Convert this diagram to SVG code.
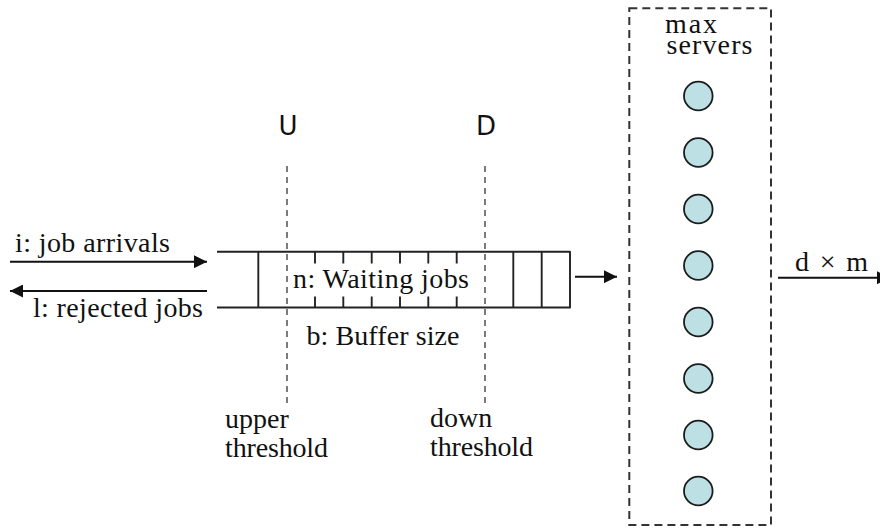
<svg xmlns="http://www.w3.org/2000/svg" width="880" height="531" viewBox="0 0 880 531">
  <style>
    .lbl { font-family: "Liberation Serif", "DejaVu Serif", serif; font-size: 28px; fill: #111; }
    .big { font-family: "DejaVu Sans", "Liberation Sans", sans-serif; font-size: 26px; fill: #111; text-anchor: middle; }
    .q { fill: none; stroke: #222; stroke-width: 1.9; stroke-linejoin: round; }
    .tick { stroke: #222; stroke-width: 1.9; }
    .thr { stroke: #444; stroke-width: 1.4; stroke-dasharray: 6 5; }
    .arrow { stroke: #111; stroke-width: 2; fill: none; }
    .pool { fill: none; stroke: #333; stroke-width: 2; stroke-dasharray: 8 5; }
    .srv { fill: #bce0e4; stroke: #1c1c1c; stroke-width: 1.8; }
  </style>
  <defs>
    <marker id="head" viewBox="0 0 10 10" refX="10" refY="5" markerUnits="userSpaceOnUse" markerWidth="13" markerHeight="13" orient="auto">
      <path d="M0,0 L10,5 L0,10 z" fill="#111"/>
    </marker>
  </defs>

  <!-- threshold markers -->
  <g id="upper-threshold">
    <line class="thr" x1="287" y1="166" x2="287" y2="407"/>
    <text class="big" x="288" y="135">U</text>
    <text class="lbl" x="225" y="428">upper<tspan x="225" y="457" textLength="103">threshold</tspan></text>
  </g>
  <g id="down-threshold">
    <line class="thr" x1="485" y1="166" x2="485" y2="407"/>
    <text class="big" x="486" y="135">D</text>
    <text class="lbl" x="430" y="427">down<tspan x="430" y="456" textLength="103">threshold</tspan></text>
  </g>

  <!-- job buffer -->
  <g id="buffer">
    <path class="q" d="M217,251.7 H570 V307.5 H217"/>
    <line class="tick" x1="258.3" y1="251.7" x2="258.3" y2="307.5"/>
    <line class="tick" x1="513.3" y1="251.7" x2="513.3" y2="307.5"/>
    <line class="tick" x1="541.7" y1="251.7" x2="541.7" y2="307.5"/>
    <g class="tick">
      <line x1="315" y1="251.7" x2="315" y2="263.5"/>
      <line x1="343.3" y1="251.7" x2="343.3" y2="263.5"/>
      <line x1="371.7" y1="251.7" x2="371.7" y2="263.5"/>
      <line x1="400" y1="251.7" x2="400" y2="263.5"/>
      <line x1="428.3" y1="251.7" x2="428.3" y2="263.5"/>
      <line x1="456.7" y1="251.7" x2="456.7" y2="263.5"/>
      <line x1="315" y1="296.5" x2="315" y2="307.5"/>
      <line x1="343.3" y1="296.5" x2="343.3" y2="307.5"/>
      <line x1="371.7" y1="296.5" x2="371.7" y2="307.5"/>
      <line x1="400" y1="296.5" x2="400" y2="307.5"/>
      <line x1="428.3" y1="296.5" x2="428.3" y2="307.5"/>
      <line x1="456.7" y1="296.5" x2="456.7" y2="307.5"/>
    </g>
    <text class="lbl" x="293" y="288" textLength="176">n: Waiting jobs</text>
    <text class="lbl" x="306.5" y="344.5" textLength="153">b: Buffer size</text>
  </g>

  <!-- server pool -->
  <g id="servers">
    <rect class="pool" x="629.3" y="8.3" width="141.7" height="516.7"/>
    <text class="lbl" x="665" y="33"><tspan textLength="52">max</tspan><tspan x="666.5" y="53.5" textLength="86">servers</tspan></text>
    <circle class="srv" cx="698.3" cy="96" r="14.3"/>
    <circle class="srv" cx="698.3" cy="152.5" r="14.3"/>
    <circle class="srv" cx="698.3" cy="209" r="14.3"/>
    <circle class="srv" cx="698.3" cy="265.5" r="14.3"/>
    <circle class="srv" cx="698.3" cy="322" r="14.3"/>
    <circle class="srv" cx="698.3" cy="378.5" r="14.3"/>
    <circle class="srv" cx="698.3" cy="435" r="14.3"/>
    <circle class="srv" cx="698.3" cy="491" r="14.3"/>
  </g>

  <!-- connectors -->
  <g id="connectors">
    <line class="arrow" x1="10" y1="261.7" x2="207" y2="261.7" marker-end="url(#head)"/>
    <text class="lbl" x="15" y="252" textLength="155">i: job arrivals</text>
    <line class="arrow" x1="207" y1="291" x2="10" y2="291" marker-end="url(#head)"/>
    <text class="lbl" x="33" y="316.5" textLength="170">l: rejected jobs</text>
    <line class="arrow" x1="575" y1="276.7" x2="617" y2="276.7" marker-end="url(#head)"/>
    <line class="arrow" x1="778" y1="277.7" x2="890" y2="277.7" marker-end="url(#head)"/>
    <text class="lbl" x="795" y="271" textLength="73">d × m</text>
  </g>
</svg>
